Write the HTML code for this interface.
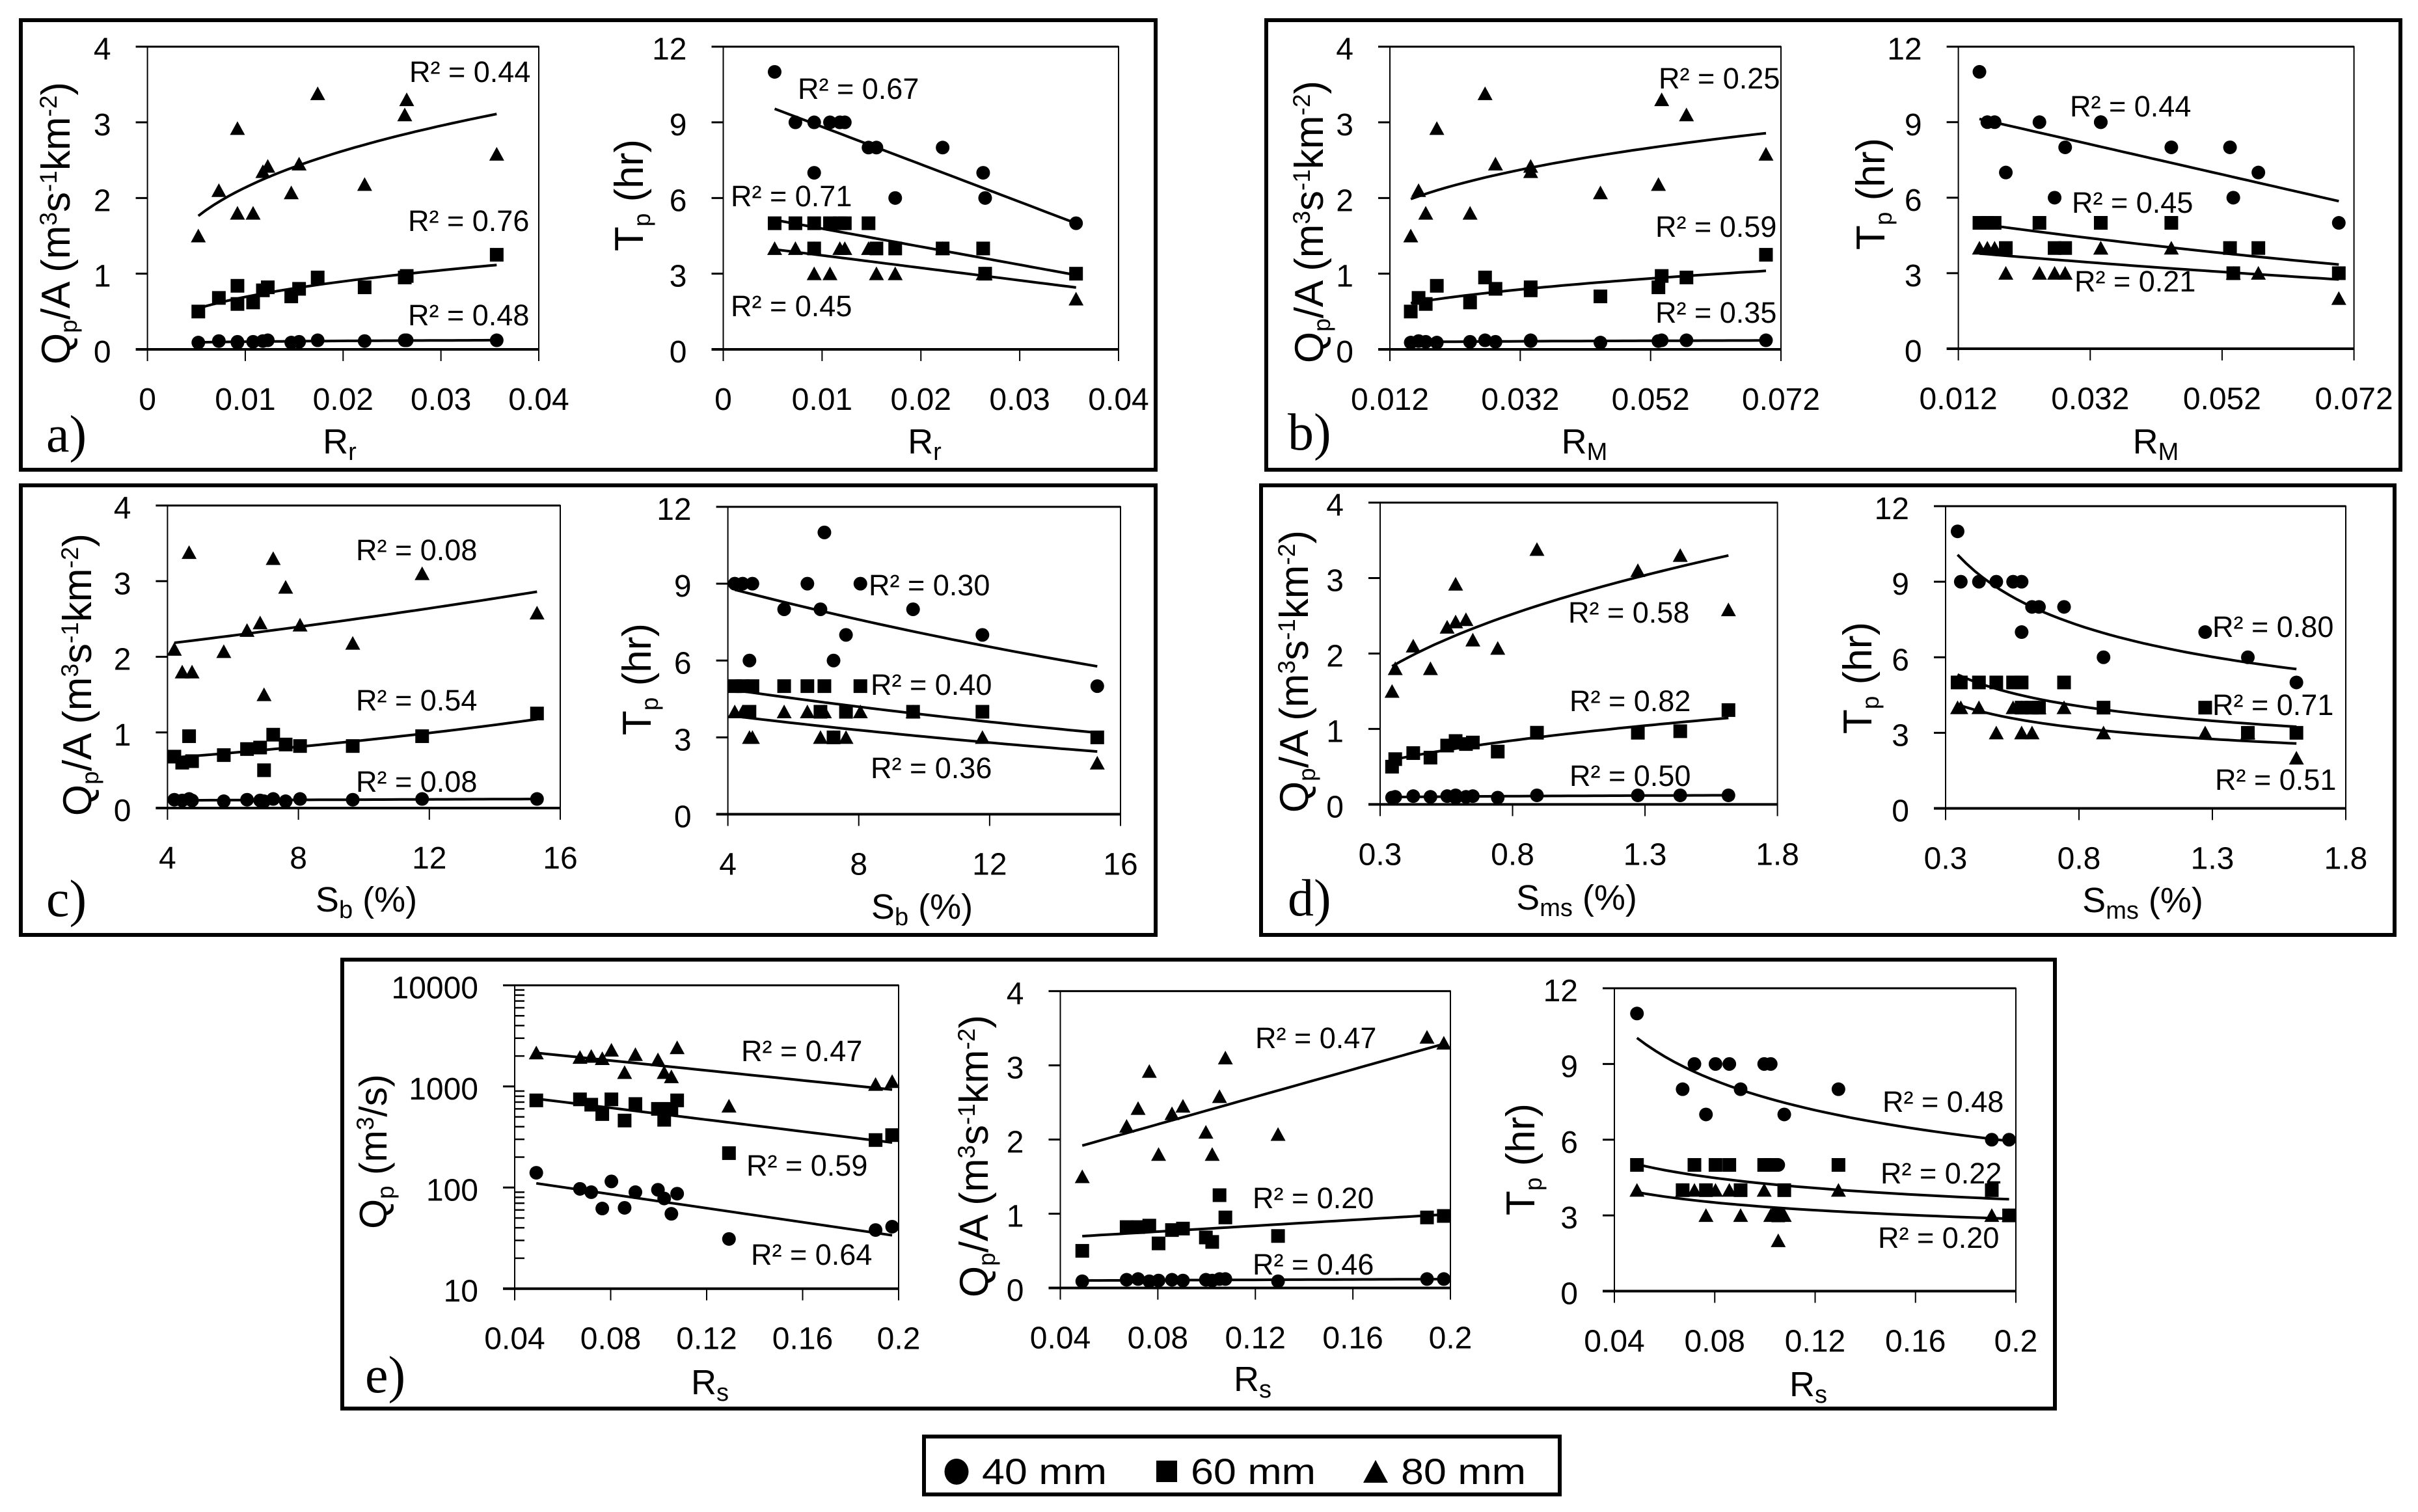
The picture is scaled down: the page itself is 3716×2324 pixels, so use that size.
<!DOCTYPE html>
<html lang="en">
<head>
<meta charset="utf-8">
<title>Peak discharge and time to peak vs. morphometric parameters</title>
<style>
html,body{margin:0;padding:0;background:#fff;}
svg{display:block;}
text{font-family:"Liberation Sans",sans-serif;fill:#000;}
.r2{font-size:45px;}
.title{font-size:62px;}
.xtitle{font-size:54px;}
.tick{font-size:48px;}
.panel{font-family:"Liberation Serif",serif;font-size:80px;}
.leg{font-size:56px;}
.frame{fill:none;stroke:#000;stroke-width:6;}
</style>
</head>
<body>
<svg id="figure" xmlns="http://www.w3.org/2000/svg" width="3716" height="2324" viewBox="0 0 3716 2324">
<rect width="3716" height="2324" fill="#fff"/>

<rect class="frame" x="32" y="31" width="1744" height="691"/>
<rect class="frame" x="1946" y="31" width="1743" height="691"/>
<rect class="frame" x="32" y="746" width="1744" height="691"/>
<rect class="frame" x="1938" y="746" width="1742" height="691"/>
<rect class="frame" x="526" y="1475" width="2632" height="690"/>

<text class="panel" x="71" y="694">a)</text>
<text class="panel" x="1979" y="691">b)</text>
<text class="panel" x="71" y="1408">c)</text>
<text class="panel" x="1979" y="1407">d)</text>
<text class="panel" x="561" y="2140">e)</text>

<!-- y axis titles -->
<text class="title" transform="rotate(-90 107 343)" x="107" y="343" text-anchor="middle">Q<tspan dy="11" font-size="37">p</tspan><tspan dy="-11">/A (m</tspan><tspan dy="-20" font-size="37">3</tspan><tspan dy="20">s</tspan><tspan dy="-20" font-size="37">-1</tspan><tspan dy="20">km</tspan><tspan dy="-20" font-size="37">-2</tspan><tspan dy="20">)</tspan></text>
<text class="title" transform="rotate(-90 988 300)" x="988" y="300" text-anchor="middle">T<tspan dy="11" font-size="37">p</tspan><tspan dy="-11"> (hr)</tspan></text>
<text class="title" transform="rotate(-90 2033 341)" x="2033" y="341" text-anchor="middle">Q<tspan dy="11" font-size="37">p</tspan><tspan dy="-11">/A (m</tspan><tspan dy="-20" font-size="37">3</tspan><tspan dy="20">s</tspan><tspan dy="-20" font-size="37">-1</tspan><tspan dy="20">km</tspan><tspan dy="-20" font-size="37">-2</tspan><tspan dy="20">)</tspan></text>
<text class="title" transform="rotate(-90 2896 298)" x="2896" y="298" text-anchor="middle">T<tspan dy="11" font-size="37">p</tspan><tspan dy="-11"> (hr)</tspan></text>
<text class="title" transform="rotate(-90 140 1037)" x="140" y="1037" text-anchor="middle">Q<tspan dy="11" font-size="37">p</tspan><tspan dy="-11">/A (m</tspan><tspan dy="-20" font-size="37">3</tspan><tspan dy="20">s</tspan><tspan dy="-20" font-size="37">-1</tspan><tspan dy="20">km</tspan><tspan dy="-20" font-size="37">-2</tspan><tspan dy="20">)</tspan></text>
<text class="title" transform="rotate(-90 1000 1044)" x="1000" y="1044" text-anchor="middle">T<tspan dy="11" font-size="37">p</tspan><tspan dy="-11"> (hr)</tspan></text>
<text class="title" transform="rotate(-90 2010 1032)" x="2010" y="1032" text-anchor="middle">Q<tspan dy="11" font-size="37">p</tspan><tspan dy="-11">/A (m</tspan><tspan dy="-20" font-size="37">3</tspan><tspan dy="20">s</tspan><tspan dy="-20" font-size="37">-1</tspan><tspan dy="20">km</tspan><tspan dy="-20" font-size="37">-2</tspan><tspan dy="20">)</tspan></text>
<text class="title" transform="rotate(-90 2876 1042)" x="2876" y="1042" text-anchor="middle">T<tspan dy="11" font-size="37">p</tspan><tspan dy="-11"> (hr)</tspan></text>
<text class="title" style="font-size:59px" transform="rotate(-90 594 1770)" x="594" y="1770" text-anchor="middle">Q<tspan dy="11" font-size="37">p</tspan><tspan dy="-11"> (m</tspan><tspan dy="-20" font-size="37">3</tspan><tspan dy="20">/s)</tspan></text>
<text class="title" transform="rotate(-90 1518 1777)" x="1518" y="1777" text-anchor="middle">Q<tspan dy="11" font-size="37">p</tspan><tspan dy="-11">/A (m</tspan><tspan dy="-20" font-size="37">3</tspan><tspan dy="20">s</tspan><tspan dy="-20" font-size="37">-1</tspan><tspan dy="20">km</tspan><tspan dy="-20" font-size="37">-2</tspan><tspan dy="20">)</tspan></text>
<text class="title" transform="rotate(-90 2358 1782)" x="2358" y="1782" text-anchor="middle">T<tspan dy="11" font-size="37">p</tspan><tspan dy="-11"> (hr)</tspan></text>

<!-- x axis titles -->
<text class="xtitle" x="522" y="697" text-anchor="middle">R<tspan dy="10" font-size="38">r</tspan></text>
<text class="xtitle" x="1421" y="697" text-anchor="middle">R<tspan dy="10" font-size="38">r</tspan></text>
<text class="xtitle" x="2435" y="697" text-anchor="middle">R<tspan dy="10" font-size="38">M</tspan></text>
<text class="xtitle" x="3313" y="697" text-anchor="middle">R<tspan dy="10" font-size="38">M</tspan></text>
<text class="xtitle" x="563" y="1401" text-anchor="middle">S<tspan dy="10" font-size="38">b</tspan><tspan dy="-10"> (%)</tspan></text>
<text class="xtitle" x="1417" y="1412" text-anchor="middle">S<tspan dy="10" font-size="38">b</tspan><tspan dy="-10"> (%)</tspan></text>
<text class="xtitle" x="2423" y="1398" text-anchor="middle">S<tspan dy="10" font-size="38">ms</tspan><tspan dy="-10"> (%)</tspan></text>
<text class="xtitle" x="3293" y="1402" text-anchor="middle">S<tspan dy="10" font-size="38">ms</tspan><tspan dy="-10"> (%)</tspan></text>
<text class="xtitle" x="1091" y="2143" text-anchor="middle">R<tspan dy="10" font-size="38">s</tspan></text>
<text class="xtitle" x="1925" y="2138" text-anchor="middle">R<tspan dy="10" font-size="38">s</tspan></text>
<text class="xtitle" x="2779" y="2146" text-anchor="middle">R<tspan dy="10" font-size="38">s</tspan></text>

<!-- R squared annotations -->
<text class="r2" x="629" y="126">R² = 0.44</text>
<text class="r2" x="627" y="355">R² = 0.76</text>
<text class="r2" x="627" y="500">R² = 0.48</text>
<text class="r2" x="1226" y="152">R² = 0.67</text>
<text class="r2" x="1123" y="317">R² = 0.71</text>
<text class="r2" x="1123" y="486">R² = 0.45</text>
<text class="r2" x="2549" y="136">R² = 0.25</text>
<text class="r2" x="2544" y="364">R² = 0.59</text>
<text class="r2" x="2544" y="496">R² = 0.35</text>
<text class="r2" x="3181" y="179">R² = 0.44</text>
<text class="r2" x="3184" y="327">R² = 0.45</text>
<text class="r2" x="3188" y="448">R² = 0.21</text>
<text class="r2" x="547" y="861">R² = 0.08</text>
<text class="r2" x="547" y="1092">R² = 0.54</text>
<text class="r2" x="547" y="1217">R² = 0.08</text>
<text class="r2" x="1335" y="915">R² = 0.30</text>
<text class="r2" x="1338" y="1068">R² = 0.40</text>
<text class="r2" x="1338" y="1196">R² = 0.36</text>
<text class="r2" x="2410" y="957">R² = 0.58</text>
<text class="r2" x="2412" y="1093">R² = 0.82</text>
<text class="r2" x="2412" y="1208">R² = 0.50</text>
<text class="r2" x="3400" y="979">R² = 0.80</text>
<text class="r2" x="3400" y="1099">R² = 0.71</text>
<text class="r2" x="3404" y="1214">R² = 0.51</text>
<text class="r2" x="1139" y="1631">R² = 0.47</text>
<text class="r2" x="1147" y="1807">R² = 0.59</text>
<text class="r2" x="1154" y="1944">R² = 0.64</text>
<text class="r2" x="1929" y="1611">R² = 0.47</text>
<text class="r2" x="1925" y="1857">R² = 0.20</text>
<text class="r2" x="1925" y="1959">R² = 0.46</text>
<text class="r2" x="2893" y="1709">R² = 0.48</text>
<text class="r2" x="2890" y="1819">R² = 0.22</text>
<text class="r2" x="2886" y="1918">R² = 0.20</text>

<!-- legend -->
<g>
  <rect class="frame" x="1420" y="2208" width="977" height="89"/>
  <ellipse cx="1470" cy="2262" rx="18.5" ry="20" fill="#000"/>
  <text class="leg" x="1509" y="2281" textLength="192" lengthAdjust="spacingAndGlyphs">40 mm</text>
  <rect x="1777" y="2245" width="32" height="33" fill="#000"/>
  <text class="leg" x="1830" y="2281" textLength="192" lengthAdjust="spacingAndGlyphs">60 mm</text>
  <polygon points="2114,2244 2133,2279 2095,2279" fill="#000"/>
  <text class="leg" x="2153" y="2281" textLength="192" lengthAdjust="spacingAndGlyphs">80 mm</text>
</g>

<g id="charts"></g>
</svg>

<script>
/* Morphometric parameters of the 14 watersheds (same order in every array) */
const rr  = [0.0052,0.0073,0.0092,0.0092,0.0108,0.0118,0.0123,0.0147,0.0155,0.0174,0.0222,0.0263,0.0265,0.0357];
const rm  = [0.0152,0.0164,0.0192,0.0175,0.0243,0.0336,0.0336,0.0443,0.0282,0.0266,0.0532,0.0575,0.0537,0.0697];
const sb  = [6.95,4.21,7.61,4.45,4.75,6.43,8.05,5.72,6.83,4.66,9.66,11.78,7.23,15.29];
const sms = [0.345,0.425,0.585,0.357,0.49,0.553,0.585,0.744,0.624,0.892,0.65,1.273,1.433,1.615];
const rs  = [0.049,0.0997,0.0765,0.0803,0.1023,0.0858,0.0719,0.1293,0.0903,0.1904,0.0672,0.1077,0.1973,0.1053];

/* Responses for the three rainfall depths */
const qa40 = [0.09,0.11,0.09,0.10,0.10,0.11,0.12,0.09,0.10,0.12,0.11,0.12,0.12,0.12];
const qa60 = [0.50,0.68,0.84,0.60,0.62,0.78,0.82,0.70,0.80,0.95,0.82,0.95,0.97,1.25];
const qa80 = [1.50,2.10,2.92,1.80,1.80,2.35,2.42,2.07,2.45,3.38,2.18,3.10,3.30,2.58];
const tp40 = [11,9,7,9,9,9,9,8,8,6,8,7,6,5];
const tp60 = [5,5,4,5,5,5,5,5,4,4,4,4,3,3];
const tp80 = [4,4,3,4,3,4,4,4,3,3,4,3,3,2];
const qp40 = [140,95,62,115,78,63,90,31,90,38,97,87,41,55];
const qp60 = [728,600,533,745,468,460,660,219,670,295,745,728,330,600];
const qp80 = [2150,1840,1890,2290,1375,1375,1990,640,2070,1050,1940,2420,1120,1250];

/* Axis ticks and labels */
const ticksRr = [0,0.01,0.02,0.03,0.04];
const labelsRr = ['0','0.01','0.02','0.03','0.04'];
const ticksRm = [0.012,0.032,0.052,0.072];
const labelsRm = ['0.012','0.032','0.052','0.072'];
const ticksSb = [4,8,12,16];
const labelsSb = ['4','8','12','16'];
const ticksSms = [0.3,0.8,1.3,1.8];
const labelsSms = ['0.3','0.8','1.3','1.8'];
const ticksRs = [0.04,0.08,0.12,0.16,0.2];
const labelsRs = ['0.04','0.08','0.12','0.16','0.2'];
const ticksQa = [0,1,2,3,4];
const labelsQa = ['0','1','2','3','4'];
const ticksTp = [0,3,6,9,12];
const labelsTp = ['0','3','6','9','12'];
const ticksQp = [10,100,1000,10000];
const labelsQp = ['10','100','1000','10000'];

const SVGNS = 'http://www.w3.org/2000/svg';
const root = document.getElementById('charts');

function make(parent, tag, attrs) {
  const n = document.createElementNS(SVGNS, tag);
  for (const k in attrs) n.setAttribute(k, attrs[k]);
  parent.appendChild(n);
  return n;
}

function fitLine(type, xs, ys) {
  const tx = type === 'power' ? xs.map(Math.log) : xs.slice();
  const ty = type === 'linear' ? ys.slice() : ys.map(Math.log);
  const n = tx.length;
  const mx = tx.reduce((a, b) => a + b, 0) / n;
  const my = ty.reduce((a, b) => a + b, 0) / n;
  let sxy = 0, sxx = 0;
  for (let i = 0; i < n; i++) {
    sxy += (tx[i] - mx) * (ty[i] - my);
    sxx += (tx[i] - mx) * (tx[i] - mx);
  }
  const b = sxy / sxx;
  const a = my - b * mx;
  if (type === 'linear') return x => a + b * x;
  if (type === 'exp') return x => Math.exp(a + b * x);
  return x => Math.exp(a + b * Math.log(x));
}

function drawMarker(g, shape, px, py) {
  if (shape === 'circle') return make(g, 'ellipse', {cx: px, cy: py, rx: 10.5, ry: 10.5, fill: '#000'});
  if (shape === 'square') return make(g, 'rect', {x: px - 10.5, y: py - 10.5, width: 21, height: 21, fill: '#000'});
  return make(g, 'polygon', {points: px + ',' + (py - 11) + ' ' + (px + 11.5) + ',' + (py + 10) + ' ' + (px - 11.5) + ',' + (py + 10), fill: '#000'});
}

const shapes = ['circle', 'square', 'triangle'];
const depths = ['40mm', '60mm', '80mm'];

function drawChart(c) {
  const xMin = c.xTicks[0], xMax = c.xTicks[c.xTicks.length - 1];
  const yMin = c.yTicks[0], yMax = c.yTicks[c.yTicks.length - 1];
  const sx = v => c.l + (v - xMin) / (xMax - xMin) * (c.r - c.l);
  const sy = c.log
    ? v => c.b - (Math.log10(v) - Math.log10(yMin)) / (Math.log10(yMax) - Math.log10(yMin)) * (c.b - c.t)
    : v => c.b - (v - yMin) / (yMax - yMin) * (c.b - c.t);

  const g = make(root, 'g', {});
  
  

  const border = make(g, 'rect', {x: c.l, y: c.t, width: c.r - c.l, height: c.b - c.t, fill: 'none', stroke: '#000', 'stroke-width': 2});
  
  

  c.yTicks.forEach((v, i) => {
    const y = sy(v);
    const isEdge = (i === 0);
    const line = make(g, 'line', {x1: c.l - 18, x2: (i === 0 || i === c.yTicks.length - 1) ? c.r : c.l, y1: y, y2: y, stroke: '#000', 'stroke-width': isEdge ? 4 : 3});
    
    
    const t = make(g, 'text', {x: c.l - 56, y: y + 20, 'text-anchor': 'end', class: 'tick'});
    t.textContent = c.yLabels[i];
    
    
  });

  if (c.log) {
    for (let d = 0; d < c.yTicks.length - 1; d++) {
      for (let m = 2; m <= 9; m++) {
        const y = sy(c.yTicks[d] * m);
        const minor = make(g, 'line', {x1: c.l, x2: c.l + 15, y1: y, y2: y, stroke: '#000', 'stroke-width': 2.5});
        
        
      }
    }
  }

  c.xTicks.forEach((v, i) => {
    const x = sx(v);
    const line = make(g, 'line', {x1: x, x2: x, y1: c.b, y2: c.b + 18, stroke: '#000', 'stroke-width': 2});
    
    
    const t = make(g, 'text', {x: x, y: c.b + 93, 'text-anchor': 'middle', class: 'tick'});
    t.textContent = c.xLabels[i];
    
    
  });

  c.series.forEach((values, s) => {
    const f = fitLine(c.fits[s], c.x, values);
    const lo = Math.min.apply(null, c.x), hi = Math.max.apply(null, c.x);
    let d = '';
    for (let k = 0; k <= 40; k++) {
      const xv = lo + (hi - lo) * k / 40;
      d += (k ? 'L' : 'M') + sx(xv).toFixed(1) + ' ' + sy(f(xv)).toFixed(1);
    }
    const trend = make(g, 'path', {d: d, fill: 'none', stroke: '#000', 'stroke-width': 4});
    
    

    values.forEach((v, i) => {
      const m = drawMarker(g, shapes[s], sx(c.x[i]), sy(v));
      
      
    });
  });
}

drawChart({id:'a-qa', l:226.6, r:828, t:71.7, b:537, x:rr, xTicks:ticksRr, xLabels:labelsRr, yTicks:ticksQa, yLabels:labelsQa, series:[qa40,qa60,qa80], fits:['power','power','power']});
drawChart({id:'a-tp', l:1111.5, r:1719, t:71.7, b:537, x:rr, xTicks:ticksRr, xLabels:labelsRr, yTicks:ticksTp, yLabels:labelsTp, series:[tp40,tp60,tp80], fits:['linear','linear','linear']});
drawChart({id:'b-qa', l:2136, r:2737, t:71.7, b:537, x:rm, xTicks:ticksRm, xLabels:labelsRm, yTicks:ticksQa, yLabels:labelsQa, series:[qa40,qa60,qa80], fits:['power','power','power']});
drawChart({id:'b-tp', l:3009.6, r:3617.6, t:71.7, b:536, x:rm, xTicks:ticksRm, xLabels:labelsRm, yTicks:ticksTp, yLabels:labelsTp, series:[tp40,tp60,tp80], fits:['linear','exp','exp']});
drawChart({id:'c-qa', l:257.4, r:861, t:777, b:1242, x:sb, xTicks:ticksSb, xLabels:labelsSb, yTicks:ticksQa, yLabels:labelsQa, series:[qa40,qa60,qa80], fits:['linear','exp','exp']});
drawChart({id:'c-tp', l:1118.6, r:1722, t:779, b:1251.5, x:sb, xTicks:ticksSb, xLabels:labelsSb, yTicks:ticksTp, yLabels:labelsTp, series:[tp40,tp60,tp80], fits:['exp','exp','exp']});
drawChart({id:'d-qa', l:2121, r:2731.6, t:772.5, b:1236.4, x:sms, xTicks:ticksSms, xLabels:labelsSms, yTicks:ticksQa, yLabels:labelsQa, series:[qa40,qa60,qa80], fits:['power','power','power']});
drawChart({id:'d-tp', l:2990, r:3605, t:778, b:1242.5, x:sms, xTicks:ticksSms, xLabels:labelsSms, yTicks:ticksTp, yLabels:labelsTp, series:[tp40,tp60,tp80], fits:['power','power','power']});
drawChart({id:'e-qp', l:791, r:1381, t:1514.5, b:1980.7, log:true, x:rs, xTicks:ticksRs, xLabels:labelsRs, yTicks:ticksQp, yLabels:labelsQp, series:[qp40,qp60,qp80], fits:['exp','exp','exp']});
drawChart({id:'e-qa', l:1629.5, r:2229, t:1523.4, b:1979.6, x:rs, xTicks:ticksRs, xLabels:labelsRs, yTicks:ticksQa, yLabels:labelsQa, series:[qa40,qa60,qa80], fits:['linear','linear','linear']});
drawChart({id:'e-tp', l:2481, r:3098, t:1519, b:1984.5, x:rs, xTicks:ticksRs, xLabels:labelsRs, yTicks:ticksTp, yLabels:labelsTp, series:[tp40,tp60,tp80], fits:['power','power','power']});
</script>
</body>
</html>
